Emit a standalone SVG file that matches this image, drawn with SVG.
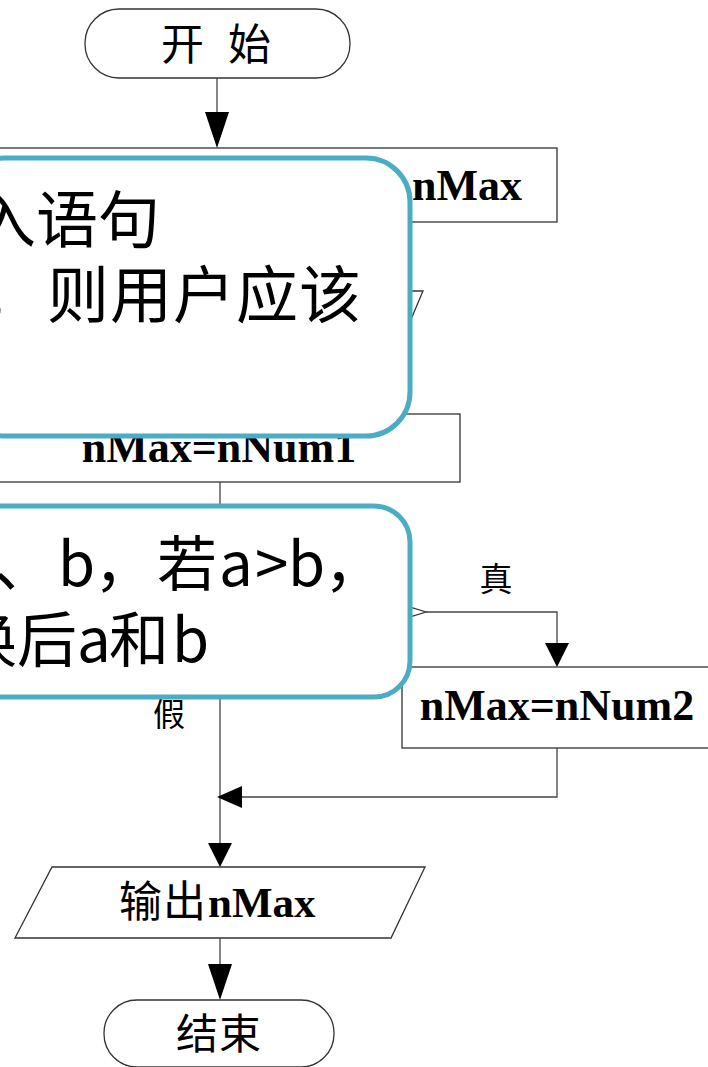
<svg xmlns="http://www.w3.org/2000/svg" width="708" height="1067" viewBox="0 0 708 1067">
<style>
.shape{fill:#fff;stroke:#333;stroke-width:1.3}
.line{fill:none;stroke:#444;stroke-width:1.3}
.head{fill:#000;stroke:none}
.cjk{font-family:"Noto Sans CJK SC","Noto Sans",sans-serif;fill:#000}
.latin{font-family:"Liberation Serif","Times New Roman",serif;font-weight:bold;fill:#000}
.callout{fill:#fff;stroke:#4bacc6;stroke-width:5}
.big{font-family:"Noto Sans CJK SC","Noto Sans",sans-serif;fill:#000}
</style>
<rect width="708" height="1067" fill="#fff"/>
<g id="start">
<rect class="shape" x="85" y="9" width="265" height="69" rx="34"/>
<text class="cjk" font-size="43" x="161 228" y="60">开始</text>
</g>
<g id="declare">
<rect class="shape" x="-5" y="148" width="562" height="74"/>
<text class="latin" font-size="44" x="412" y="200">nMax</text>
</g>
<g id="input">
<polygon class="shape" points="52,291 423,291 393,362 15,362"/>
</g>
<g id="assign1">
<rect class="shape" x="-5" y="414" width="465" height="68"/>
<text class="latin" font-size="44" x="219" y="462" text-anchor="middle">nMax=nNum1</text>
</g>
<g id="decision">
<polygon class="shape" points="220,549 426,612 220,675 14,612"/>
</g>
<g id="assign2">
<rect class="shape" x="402" y="667" width="320" height="81"/>
<text class="latin" font-size="44" x="557" y="720" text-anchor="middle">nMax=nNum2</text>
</g>
<g id="output">
<polygon class="shape" points="52,867 425,867 391,938 15,938"/>
<text y="917" font-size="43"><tspan class="cjk" x="119 163">输出</tspan><tspan class="latin" x="208">nMax</tspan></text>
</g>
<g id="end">
<rect class="shape" x="104" y="1000" width="230" height="67" rx="33"/>
<text class="cjk" font-size="42" x="176 219" y="1049">结束</text>
</g>
<g id="connectors">
<line class="line" x1="217" y1="78" x2="217" y2="114"/>
<polygon class="head" points="205,112 229,112 217,148"/>
<line class="line" x1="220" y1="482" x2="220" y2="549"/>
<polyline class="line" points="426,612 557,612 557,645"/>
<polygon class="head" points="545,643 569,643 557,667"/>
<line class="line" x1="220" y1="675" x2="220" y2="845"/>
<polygon class="head" points="208,843 232,843 220,867"/>
<polyline class="line" points="557,748 557,797 240,797"/>
<polygon class="head" points="242,786 242,808 217,797"/>
<line class="line" x1="220" y1="938" x2="220" y2="966"/>
<polygon class="head" points="208,964 232,964 220,1000"/>
<text class="cjk" font-size="33" x="496" y="591" text-anchor="middle">真</text>
<text class="cjk" font-size="32" x="169" y="726" text-anchor="middle">假</text>
</g>
<g id="callout1">
<rect class="callout" x="-40" y="158" width="450" height="278" rx="44"/>
<text class="big" font-size="62" x="-26 36 98" y="243">入语句</text>
<text class="big" font-size="62" x="-20 47 110 173 236 299" y="318">，则用户应该</text>
</g>
<g id="callout2">
<rect class="callout" x="-40" y="506" width="450" height="191" rx="36"/>
<text class="big" font-size="60" x="-6 58 94 157 219 255 288 324" y="586">、b，若a&gt;b，</text>
<text class="big" font-size="60" x="-43 17 77 109 172" y="662">换后a和b</text>
</g>
</svg>
